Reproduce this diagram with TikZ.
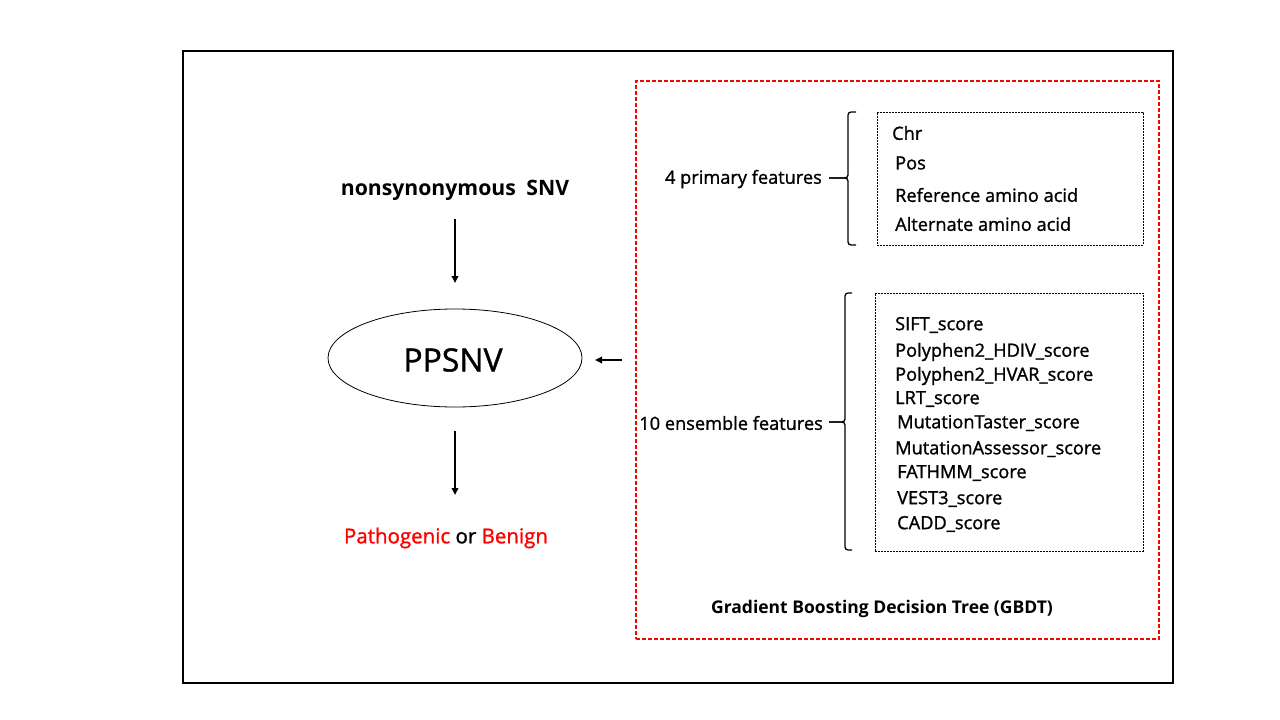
\documentclass[tikz,border=0pt]{standalone}
\usepackage{fontspec}
\setmainfont{Open Sans}
\newfontfamily\medfont{Open Sans}[FakeBold=1.2]
\usetikzlibrary{arrows.meta,shapes.geometric}
\definecolor{pred}{RGB}{255,0,0}
\begin{document}
\begin{tikzpicture}[x=1pt,y=-1pt,
  lbl/.style={inner sep=0pt,font=\medfont\fontsize{18.2}{21}\selectfont},
  feat/.style={inner sep=0pt,anchor=west,font=\medfont\fontsize{18.2}{21}\selectfont},
  arr/.style={line width=1.8pt,-{Triangle[length=7pt,width=6.5pt]}},
  brace/.style={line width=1.3pt,rounded corners=3pt},
  fbox/.style={draw,dashed,dash pattern=on 2pt off 1pt,line width=0.6pt}]
\useasboundingbox (0,0) rectangle (1280,720);
\fill[white] (0,0) rectangle (1280,720);
\node[draw,line width=1.5pt,minimum width=990pt,minimum height=632pt,inner sep=0pt] (outer) at (678,367) {};
\node[draw=pred,dashed,dash pattern=on 4pt off 2pt,line width=1.5pt,minimum width=523pt,minimum height=558pt,inner sep=0pt] (gbdt) at (897.5,360) {};
\node[fbox,minimum width=266pt,minimum height=133pt,inner sep=0pt] (box1) at (1010,178.5) {};
\node[fbox,minimum width=268pt,minimum height=258pt,inner sep=0pt] (box2) at (1009,422) {};
% left
\node[lbl,font=\fontsize{21.2}{25}\selectfont\bfseries] (snv) at (455,190) {nonsynonymous\hspace{0.5em}SNV};
\node[draw,ellipse,line width=0.8pt,minimum width=254pt,minimum height=98pt,inner sep=0pt] (pp) at (455,358) {};
\node[lbl,font=\medfont\fontsize{32}{36}\selectfont] (pptxt) at (453,360) {PPSNV};
\node[lbl,font=\medfont\fontsize{20.5}{24}\selectfont] (out) at (446,538) {\textcolor{pred}{Pathogenic} or \textcolor{pred}{Benign}};
\coordinate (a1s) at (455,219); \coordinate (a1e) at (455,283);
\coordinate (a2s) at (455,431); \coordinate (a2e) at (455,495);
\coordinate (a3s) at (622,360); \coordinate (a3e) at (595,360);
\draw[arr] (a1s) -- (a1e);
\draw[arr] (a2s) -- (a2e);
\draw[arr] (a3s) -- (a3e);
% braces
\node[lbl,anchor=east] (prim) at (822,179) {4 primary features};
\node[lbl,anchor=east] (ens) at (823,423) {10 ensemble features};
\draw[brace] (856,112) -- (848,112) -- (848,178) -- (829,178);
\draw[brace] (829,178) -- (848,178) -- (848,245) -- (856,245);
\draw[brace] (852,293) -- (845,293) -- (845,422) -- (829,422);
\draw[brace] (829,422) -- (845,422) -- (845,550) -- (852,550);
% features
\node[feat] (f1) at (892,133) {Chr};
\node[feat] (f2) at (895,163) {Pos};
\node[feat] (f3) at (895,195) {Reference amino acid};
\node[feat] (f4) at (895,224) {Alternate amino acid};
\node[feat] (e1) at (895,325) {SIFT\_score};
\node[feat] (e2) at (895,352) {Polyphen2\_HDIV\_score};
\node[feat] (e3) at (895,376) {Polyphen2\_HVAR\_score};
\node[feat] (e4) at (895,399) {LRT\_score};
\node[feat] (e5) at (897,423) {MutationTaster\_score};
\node[feat] (e6) at (895,449) {MutationAssessor\_score};
\node[feat] (e7) at (897,473) {FATHMM\_score};
\node[feat] (e8) at (897,499) {VEST3\_score};
\node[feat] (e9) at (897,524) {CADD\_score};
\node[lbl,font=\fontsize{17.5}{21}\selectfont\bfseries] (gt) at (882,609) {Gradient Boosting Decision Tree (GBDT)};
\end{tikzpicture}
\end{document}
